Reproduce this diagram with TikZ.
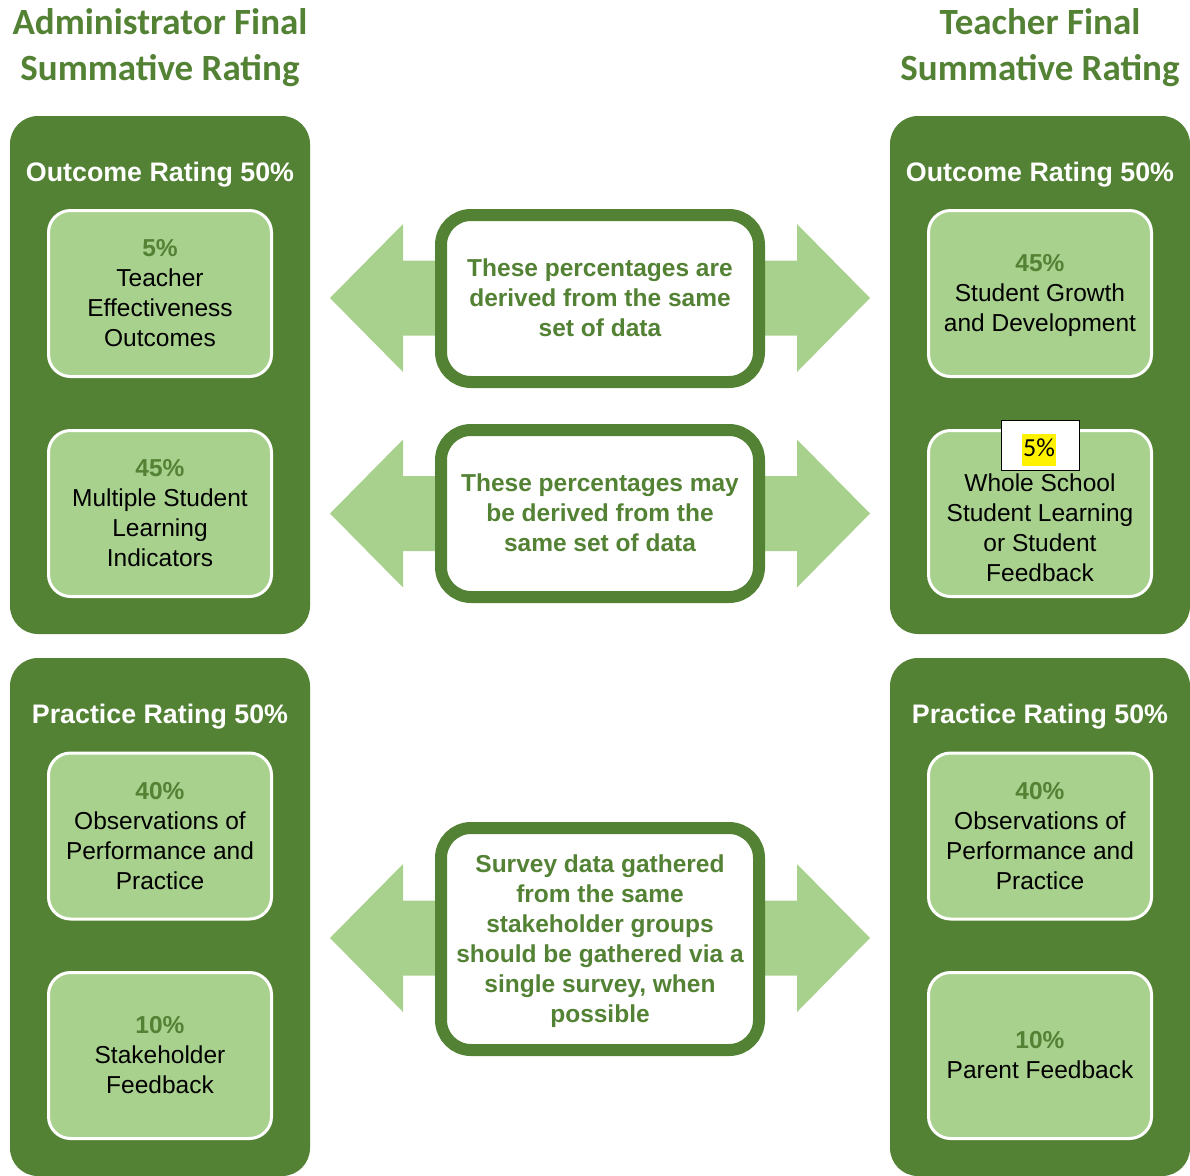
\documentclass[tikz,border=0pt]{standalone}
\usepackage{fontspec}
\setmainfont{Liberation Sans}
\newfontfamily\calibri{Carlito}
\pgfdeclarelayer{bg}
\pgfsetlayers{bg,main}
\definecolor{dkgreen}{HTML}{548235}
\definecolor{ltgreen}{HTML}{A9D18E}
\newcommand{\pct}[1]{{\color{dkgreen}\bfseries #1}}
\tikzset{
    every node/.style={inner sep=0mm, align=center, font=\fontsize{24.5}{30}\selectfont,
        execute at begin node=\strut, execute at end node=\strut}
}
\tikzset{panel/.style={fill=dkgreen, rounded corners=28, minimum width=300, minimum height=518}}
\tikzset{item/.style={fill=ltgreen, draw=white, line width=3, rounded corners=22, minimum width=223, minimum height=166}}
\tikzset{note/.style={fill=white, draw=dkgreen, line width=12, rounded corners=30, minimum width=318}}
\tikzset{notetext/.style={text=dkgreen, font=\fontsize{24.5}{30}\selectfont\bfseries}}
\tikzset{head/.style={text=white, font=\fontsize{26.8}{30}\selectfont\bfseries}}
\tikzset{title/.style={text=dkgreen, font=\fontsize{37}{46}\selectfont\calibri\bfseries}}

\begin{document}
\begin{tikzpicture}[x=1pt, y=-1pt]
        \useasboundingbox (0,0) rectangle (1190,1175);
        \clip (0,0) rectangle (1190,1175);
        \node (ta) [title] at (160, 51) {Administrator Final\\Summative Rating};
        \node (tt) [title] at (1040, 51) {Teacher Final\\Summative Rating};
        \node (a0) [panel] at (160, 375) {};
        \node (a1) [panel] at (160, 917) {};
        \node (t0) [panel] at (1040, 375) {};
        \node (t1) [panel] at (1040, 917) {};
        \node (ha0) [head] at (160, 175) {Outcome Rating 50\%};
        \node (ha1) [head] at (160, 717) {Practice Rating 50\%};
        \node (ht0) [head] at (1040, 175) {Outcome Rating 50\%};
        \node (ht1) [head] at (1040, 717) {Practice Rating 50\%};
        \node (i0) [item] at (160, 293.5) {};
        \node (i1) [item] at (160, 513.5) {};
        \node (i2) [item] at (160, 836) {};
        \node (i3) [item] at (160, 1055.5) {};
        \node (i4) [item] at (1040, 293.5) {};
        \node (i5) [item] at (1040, 513.5) {};
        \node (i6) [item] at (1040, 836) {};
        \node (i7) [item] at (1040, 1055.5) {};
        \node (l0) at ([yshift=-4]i0) {\pct{5\%}\\Teacher\\Effectiveness\\Outcomes};
        \node (l1) at ([yshift=-4]i1) {\pct{45\%}\\Multiple Student\\Learning\\Indicators};
        \node (l2) at ([yshift=-4]i2) {\pct{40\%}\\Observations of\\Performance and\\Practice};
        \node (l3) at ([yshift=-4]i3) {\pct{10\%}\\Stakeholder\\Feedback};
        \node (l4) at ([yshift=-4]i4) {\pct{45\%}\\Student Growth\\and Development};
        \node (l5) at ([yshift=-4]i5) {\phantom{5\%}\\Whole School\\Student Learning\\or Student\\Feedback};
        \node (l6) at ([yshift=-4]i6) {\pct{40\%}\\Observations of\\Performance and\\Practice};
        \node (l7) at ([yshift=-4]i7) {\pct{10\%}\\Parent Feedback};
        \node (hl) [draw=black, line width=1, fill=white, minimum width=78, minimum height=50,
            execute at begin node={}, execute at end node={}] at (1040, 445) {};
        \node (hlt) [fill=yellow, inner sep=1, font=\fontsize{26}{30}\selectfont\calibri,
            execute at begin node={}, execute at end node={}] at (1039, 450) {5\%};
        \node (n0) [note, minimum height=167] at (600, 298.5) {};
        \node (n1) [note, minimum height=167] at (600, 513.5) {};
        \node (n2) [note, minimum height=222] at (600, 939) {};
        \node (m0) [notetext] at ([yshift=-4]n0) {These percentages are\\derived from the same\\set of data};
        \node (m1) [notetext] at ([yshift=-4]n1) {These percentages may\\be derived from the\\same set of data};
        \node (m2) [notetext] at ([yshift=-4]n2) {Survey data gathered\\from the same\\stakeholder groups\\should be gathered via a\\single survey, when\\possible};
        \begin{pgfonlayer}{bg}
                \foreach \c in {298, 513.5, 938}
                        \fill[ltgreen] (330,\c) -- (403,\c-74) -- (403,\c-37.5) -- (797,\c-37.5) -- (797,\c-74)
                                -- (870,\c) -- (797,\c+74) -- (797,\c+37.5) -- (403,\c+37.5) -- (403,\c+74) -- cycle;
        \end{pgfonlayer}
\end{tikzpicture}
\end{document}
